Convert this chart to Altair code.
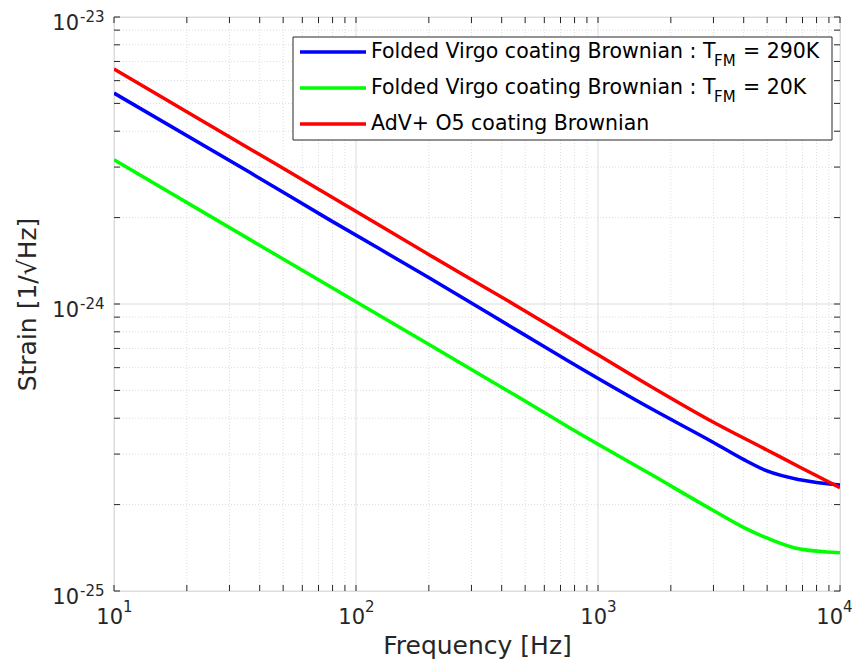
import altair as alt
import pandas as pd

# ---- data ----
red_f = [10, 36.5, 78.1, 202, 476, 766, 1641, 2987, 4990, 6835, 10000]
red_v = [6.59e-24, 3.47e-24, 2.38e-24, 1.48e-24, 9.69e-25, 7.62e-25, 5.18e-25,
         3.88e-25, 3.10e-25, 2.70e-25, 2.29e-25]

blue_f = [10, 36.5, 78.1, 202, 476, 766, 1641, 2987, 3971, 4990, 6835, 10000]
blue_v = [5.43e-24, 2.87e-24, 1.96e-24, 1.23e-24, 7.98e-25, 6.28e-25, 4.34e-25,
          3.30e-25, 2.88e-25, 2.62e-25, 2.44e-25, 2.34e-25]

green_f = [10, 78.1, 202, 476, 766, 1641, 2987, 3971, 4990, 6835, 10000]
green_v = [3.18e-24, 1.15e-24, 7.20e-25, 4.70e-25, 3.70e-25, 2.56e-25, 1.91e-25,
           1.67e-25, 1.53e-25, 1.40e-25, 1.36e-25]

series_names = [
    "Folded Virgo coating Brownian : T",
    "Folded Virgo coating Brownian : T",
    "AdV+ O5 coating Brownian",
]
series_subs = ["FM", "FM", ""]
series_tails = ["= 290K", "= 20K", ""]
series_colors = ["#0000FF", "#00FF00", "#FF0000"]

x_major = [10, 100, 1000, 10000]
x_exp = ["1", "2", "3", "4"]
y_major = [1e-25, 1e-24, 1e-23]
y_exp = ["-25", "-24", "-23"]
minor_mult = [2, 3, 4, 5, 6, 7, 8, 9]
x_minor = [m * d for d in x_major[:-1] for m in minor_mult]
y_minor = [m * d for d in y_major[:-1] for m in minor_mult]

W, H = 726, 574
FONT = "DejaVu Sans"
AXC = "#262626"
GRIDC = "#dcdcdc"

xs = alt.Scale(type="log", domain=[10, 10000], nice=False)
ys = alt.Scale(type="log", domain=[1e-25, 1e-23], nice=False)

x_axis = alt.Axis(
    values=x_major, labels=False,
    title="Frequency [Hz]", grid=False, ticks=False, domain=False,
    titleFont=FONT, titleFontSize=25, titleColor=AXC, titleFontWeight="normal",
    titleY=54, titleBaseline="middle",
)
y_axis = alt.Axis(
    values=y_major, labels=False,
    title="Strain [1/√Hz]", grid=False, ticks=False, domain=False,
    titleFont=FONT, titleFontSize=25, titleColor=AXC, titleFontWeight="normal",
    titleX=-87, titleY=H / 2, titleBaseline="middle",
)

X = lambda: alt.X("f:Q", scale=xs, axis=x_axis)
Y = lambda: alt.Y("v:Q", scale=ys, axis=y_axis)

dx_major = pd.DataFrame({"f": x_major, "e": x_exp, "b": ["10"] * 4})
dx_minor = pd.DataFrame({"f": x_minor})
dy_major = pd.DataFrame({"v": y_major, "e": y_exp, "b": ["10"] * 3})
dy_minor = pd.DataFrame({"v": y_minor})
dx_all = pd.DataFrame({"f": x_major + x_minor})
dy_all = pd.DataFrame({"v": y_major + y_minor})

layers = []
# grid
layers.append(alt.Chart(dx_minor).mark_rule(color=GRIDC, strokeWidth=1, strokeDash=[1, 2]).encode(
    x=X(), y=alt.value(0), y2=alt.value(H)))
layers.append(alt.Chart(dy_minor).mark_rule(color=GRIDC, strokeWidth=1, strokeDash=[1, 2]).encode(
    y=Y(), x=alt.value(0), x2=alt.value(W)))
layers.append(alt.Chart(dx_major).mark_rule(color=GRIDC, strokeWidth=1).encode(
    x=X(), y=alt.value(0), y2=alt.value(H)))
layers.append(alt.Chart(dy_major).mark_rule(color=GRIDC, strokeWidth=1).encode(
    y=Y(), x=alt.value(0), x2=alt.value(W)))

# curves (blue, green, red drawing order)
for fv, vv, col in [(blue_f, blue_v, series_colors[0]),
                    (green_f, green_v, series_colors[1]),
                    (red_f, red_v, series_colors[2])]:
    d = pd.DataFrame({"f": fv, "v": vv})
    layers.append(alt.Chart(d).mark_line(color=col, strokeWidth=3.5, interpolate="monotone", clip=True).encode(
        x=X(), y=Y()))

# inner ticks
TL = 6
layers.append(alt.Chart(dx_all).mark_rule(color=AXC, strokeWidth=1).encode(
    x=X(), y=alt.value(H), y2=alt.value(H - TL)))
layers.append(alt.Chart(dx_all).mark_rule(color=AXC, strokeWidth=1).encode(
    x=X(), y=alt.value(0), y2=alt.value(TL)))
layers.append(alt.Chart(dy_all).mark_rule(color=AXC, strokeWidth=1).encode(
    y=Y(), x=alt.value(0), x2=alt.value(TL)))
layers.append(alt.Chart(dy_all).mark_rule(color=AXC, strokeWidth=1).encode(
    y=Y(), x=alt.value(W), x2=alt.value(W - TL)))

# tick labels with real superscripts
for sub, shift in [(dx_major.iloc[:-1], 9), (dx_major.iloc[-1:], 3)]:
    layers.append(alt.Chart(sub).mark_text(font=FONT, fontSize=21, color=AXC, align="right",
                                           baseline="alphabetic", dx=shift).encode(
        x=X(), y=alt.value(H + 33), text="b:N"))
    layers.append(alt.Chart(sub).mark_text(font=FONT, fontSize=15, color=AXC, align="left",
                                           baseline="alphabetic", dx=shift).encode(
        x=X(), y=alt.value(H + 21), text="e:N"))
layers.append(alt.Chart(dy_major).mark_text(font=FONT, fontSize=21, color=AXC, align="right",
                                            baseline="alphabetic", dy=13).encode(
    y=Y(), x=alt.value(-35), text="b:N"))
layers.append(alt.Chart(dy_major).mark_text(font=FONT, fontSize=15, color=AXC, align="left",
                                            baseline="alphabetic", dy=5).encode(
    y=Y(), x=alt.value(-34), text="e:N"))

# legend box
BX0, BX1, BY0, BY1 = 179, 718, 20, 123
layers.append(alt.Chart(pd.DataFrame({"a": [0]})).mark_rect(fill="white", stroke=AXC, strokeWidth=1).encode(
    x=alt.value(BX0), x2=alt.value(BX1), y=alt.value(BY0), y2=alt.value(BY1)))
row_y = [35, 71, 107]
for i in range(3):
    one = pd.DataFrame({"a": [0]})
    layers.append(alt.Chart(one).mark_rule(color=series_colors[i], strokeWidth=3.5).encode(
        x=alt.value(186), x2=alt.value(252), y=alt.value(row_y[i])))
    layers.append(alt.Chart(one).mark_text(text=series_names[i], font=FONT, fontSize=20.5, color="black",
                                           align="left", baseline="middle").encode(
        x=alt.value(257), y=alt.value(row_y[i])))
    if series_subs[i]:
        layers.append(alt.Chart(one).mark_text(text=series_subs[i], font=FONT, fontSize=15, color="black",
                                               align="left", baseline="middle").encode(
            x=alt.value(600), y=alt.value(row_y[i] + 9)))
        layers.append(alt.Chart(one).mark_text(text=series_tails[i], font=FONT, fontSize=20.5, color="black",
                                               align="left", baseline="middle").encode(
            x=alt.value(629), y=alt.value(row_y[i])))

chart = alt.layer(*layers).properties(
    width=W, height=H,
    autosize=alt.AutoSizeParams(type="none"),
    padding={"left": 106, "top": 9, "right": 12, "bottom": 69},
).configure_view(stroke=AXC, strokeWidth=1).configure(background="white")

chart.save("out.html", embed_options={"renderer": "svg", "actions": False})
